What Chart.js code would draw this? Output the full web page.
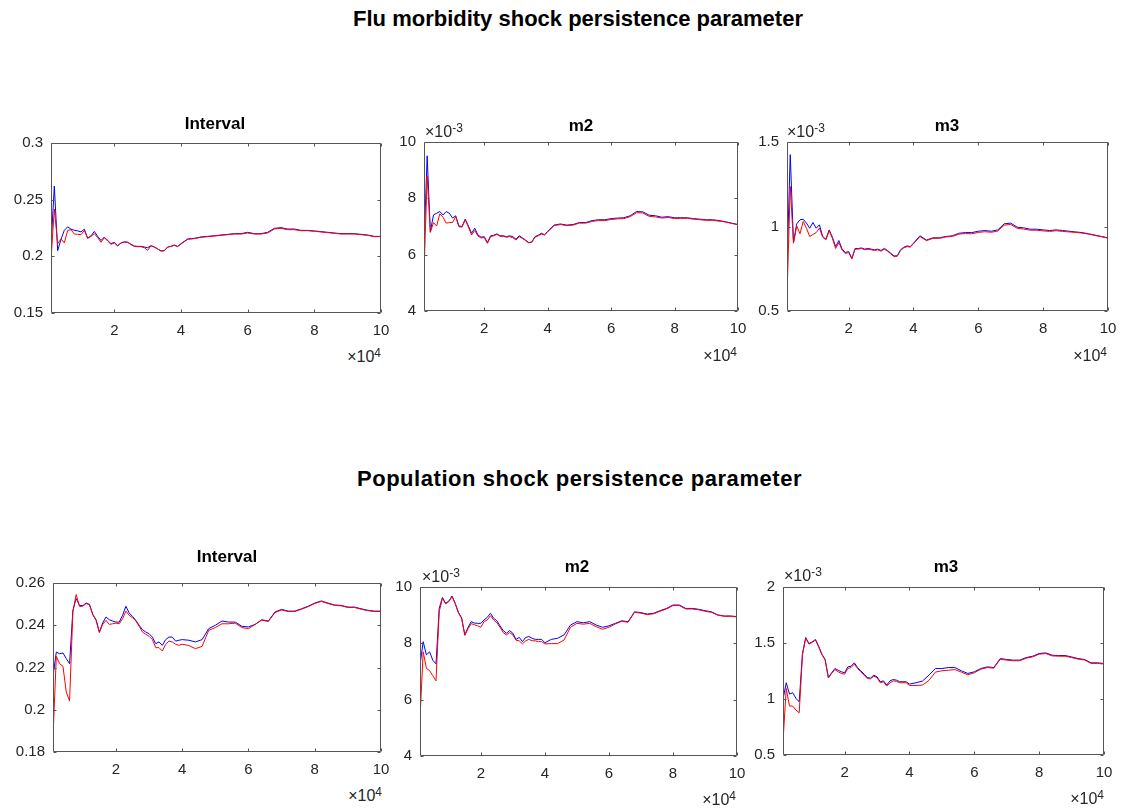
<!DOCTYPE html>
<html>
<head>
<meta charset="utf-8">
<title>Shock persistence parameters</title>
<script src="https://cdn.jsdelivr.net/npm/chart.js@4.4.1/dist/chart.umd.min.js"></script>
<style>
  html, body { margin: 0; padding: 0; background: #fff; }
  #page {
    position: relative;
    width: 1131px;
    height: 812px;
    overflow: hidden;
    font-family: "Liberation Sans", Arial, Helvetica, sans-serif;
  }
  #page canvas { position: absolute; }
  .txt { position: absolute; white-space: nowrap; }
  .sup { position: relative; top: -0.45em; font-size: 12px; line-height: 0; }
</style>
</head>
<body>
<div id="page"></div>
<script>
// ═══════════════════════════════════════
// Convergence diagnostics, 2 x 3 panels
// blue / red lines per panel
// ═══════════════════════════════════════

// x positions (draws)
let draws = [
  1000, 2000, 3000, 4000, 5000, 6000, 7000, 8000, 9000, 10000,
  11000, 12000, 13000, 14000, 15000, 16000, 17000, 18000, 19000, 20000,
  21000, 22000, 23000, 24000, 25000, 26000, 27000, 28000, 29000, 30000,
  31000, 32000, 33000, 34000, 35000, 36000, 37000, 38000, 39000, 40000,
  42000, 44000, 46000, 48000, 50000, 52000, 54000, 56000, 58000, 60000,
  62000, 64000, 66000, 68000, 70000, 72000, 74000, 76000, 78000, 80000,
  82000, 84000, 86000, 88000, 90000, 92000, 94000, 96000, 98000, 100000,
];

// tick labels
let xTicks = [20000, 40000, 60000, 80000, 100000];
let fluIntervalTicks = [0.15, 0.2, 0.25, 0.3];
let m2Ticks = [4, 6, 8, 10];            // x 1e-3
let fluM3Ticks = [0.5, 1, 1.5];         // x 1e-3
let popIntervalTicks = [0.18, 0.2, 0.22, 0.24, 0.26];
let popM3Ticks = [0.5, 1, 1.5, 2];      // x 1e-3

// Flu morbidity shock persistence parameter
let fluIntervalBlue = [
  0.209, 0.262, 0.205, 0.215, 0.223, 0.226, 0.224, 0.223, 0.2225, 0.2215,
  0.224, 0.216, 0.218, 0.222, 0.2176, 0.214, 0.217, 0.214, 0.2112, 0.2124,
  0.2094, 0.2118, 0.2129, 0.2124, 0.2106, 0.2091, 0.2088, 0.2088, 0.2082, 0.2076,
  0.2094, 0.2082, 0.2065, 0.2047, 0.205, 0.2082, 0.2088, 0.21, 0.2088, 0.2112,
  0.2153, 0.2159, 0.2171, 0.2176, 0.2182, 0.2188, 0.2194, 0.22, 0.22, 0.2212,
  0.22, 0.22, 0.2212, 0.2247, 0.2253, 0.2241, 0.2241, 0.2229, 0.2229, 0.2224,
  0.2218, 0.2212, 0.2206, 0.22, 0.22, 0.22, 0.2194, 0.2188, 0.2176, 0.2176,
];
let fluIntervalRed = [
  0.197, 0.2418, 0.2112, 0.2153, 0.2118, 0.2229, 0.2235, 0.2197, 0.2194, 0.2191,
  0.2229, 0.2159, 0.2176, 0.22, 0.2165, 0.2124, 0.2165, 0.2135, 0.2106, 0.2118,
  0.2091, 0.2118, 0.2124, 0.2124, 0.2103, 0.2088, 0.2085, 0.2085, 0.2076, 0.2053,
  0.2094, 0.2082, 0.2065, 0.2047, 0.205, 0.2082, 0.2088, 0.2097, 0.2085, 0.2109,
  0.215, 0.2156, 0.2168, 0.2173, 0.2179, 0.2185, 0.2191, 0.2197, 0.2197, 0.2206,
  0.2197, 0.2197, 0.2206, 0.2241, 0.2247, 0.2235, 0.2235, 0.2226, 0.2226, 0.2221,
  0.2215, 0.2209, 0.2203, 0.2197, 0.2197, 0.2197, 0.2191, 0.2185, 0.2174, 0.2174,
];
// m2 / m3 values are in units of 1e-3 (multiplier printed above the axes)
let fluM2Blue = [
  6.29, 9.51, 6.82, 7.41, 7.47, 7.53, 7.41, 7.53, 7.47, 7.30,
  7.38, 7.02, 7.00, 7.26, 7.02, 6.76, 6.94, 6.70, 6.62, 6.64,
  6.43, 6.67, 6.69, 6.74, 6.67, 6.67, 6.64, 6.67, 6.64, 6.55,
  6.67, 6.60, 6.52, 6.43, 6.45, 6.64, 6.69, 6.76, 6.71, 6.83,
  7.05, 7.09, 7.05, 7.07, 7.14, 7.14, 7.21, 7.24, 7.24, 7.28,
  7.30, 7.31, 7.38, 7.53, 7.52, 7.40, 7.38, 7.33, 7.35, 7.31,
  7.31, 7.31, 7.28, 7.26, 7.24, 7.24, 7.21, 7.17, 7.12, 7.07,
];
let fluM2Red = [
  5.34, 8.80, 6.79, 7.14, 7.02, 7.45, 7.33, 7.12, 7.14, 7.14,
  7.35, 6.99, 6.98, 7.24, 6.98, 6.70, 6.86, 6.66, 6.59, 6.61,
  6.40, 6.64, 6.67, 6.72, 6.65, 6.65, 6.62, 6.64, 6.60, 6.52,
  6.64, 6.58, 6.50, 6.42, 6.44, 6.62, 6.67, 6.73, 6.70, 6.81,
  7.03, 7.07, 7.03, 7.05, 7.12, 7.12, 7.18, 7.21, 7.21, 7.25,
  7.27, 7.28, 7.35, 7.49, 7.48, 7.36, 7.34, 7.30, 7.32, 7.28,
  7.29, 7.29, 7.26, 7.24, 7.22, 7.22, 7.19, 7.16, 7.11, 7.06,
];
let fluM3Blue = [
  0.763, 1.425, 0.905, 1.016, 1.040, 1.043, 1.020, 0.990, 1.024, 0.990,
  1.010, 0.941, 0.925, 0.980, 0.937, 0.881, 0.917, 0.866, 0.846, 0.852,
  0.812, 0.870, 0.870, 0.873, 0.866, 0.870, 0.866, 0.862, 0.866, 0.858,
  0.870, 0.858, 0.842, 0.826, 0.826, 0.862, 0.877, 0.885, 0.881, 0.901,
  0.945, 0.920, 0.933, 0.933, 0.941, 0.945, 0.960, 0.964, 0.964, 0.972,
  0.976, 0.972, 0.980, 1.016, 1.020, 0.996, 0.992, 0.984, 0.984, 0.980,
  0.976, 0.980, 0.976, 0.972, 0.968, 0.964, 0.957, 0.949, 0.941, 0.933,
];
let fluM3Red = [
  0.585, 1.237, 0.901, 1.004, 0.957, 1.030, 0.990, 0.941, 0.953, 0.964,
  0.990, 0.937, 0.921, 0.975, 0.930, 0.870, 0.905, 0.860, 0.840, 0.846,
  0.808, 0.866, 0.866, 0.870, 0.862, 0.866, 0.862, 0.858, 0.862, 0.854,
  0.866, 0.854, 0.838, 0.822, 0.824, 0.858, 0.873, 0.881, 0.878, 0.897,
  0.941, 0.916, 0.930, 0.930, 0.938, 0.941, 0.955, 0.958, 0.957, 0.965,
  0.969, 0.966, 0.973, 1.008, 1.012, 0.989, 0.985, 0.978, 0.978, 0.974,
  0.971, 0.975, 0.971, 0.968, 0.965, 0.961, 0.955, 0.947, 0.939, 0.931,
];

// Population shock persistence parameter
let popIntervalBlue = [
  0.2158, 0.2273, 0.2265, 0.2269, 0.2242, 0.2218, 0.2471, 0.2526, 0.2494, 0.2493,
  0.2505, 0.2499, 0.2452, 0.2426, 0.2368, 0.2411, 0.2439, 0.2426, 0.2420, 0.2415,
  0.2415, 0.2447, 0.2490, 0.2458, 0.2442, 0.2423, 0.2400, 0.2379, 0.2368, 0.2360,
  0.2344, 0.2313, 0.2321, 0.2305, 0.2332, 0.2344, 0.2344, 0.2325, 0.2329, 0.2332,
  0.2329, 0.2321, 0.2332, 0.2384, 0.2400, 0.2420, 0.2415, 0.2415, 0.2395, 0.2392,
  0.2404, 0.2426, 0.2420, 0.2463, 0.2475, 0.2467, 0.2467, 0.2478, 0.2490, 0.2505,
  0.2515, 0.2505, 0.2496, 0.2494, 0.2486, 0.2486, 0.2478, 0.2471, 0.2467, 0.2467,
];
let popIntervalRed = [
  0.1871, 0.2253, 0.2218, 0.2206, 0.2084, 0.2041, 0.2463, 0.2546, 0.2489, 0.2490,
  0.2503, 0.2497, 0.2449, 0.2423, 0.2365, 0.2405, 0.2423, 0.2404, 0.2407, 0.2410,
  0.2407, 0.2431, 0.2467, 0.2447, 0.2436, 0.2420, 0.2395, 0.2368, 0.2357, 0.2348,
  0.2332, 0.2294, 0.2294, 0.2278, 0.2310, 0.2325, 0.2321, 0.2310, 0.2305, 0.2310,
  0.2304, 0.2289, 0.2300, 0.2376, 0.2389, 0.2407, 0.2407, 0.2410, 0.2389, 0.2384,
  0.2404, 0.2424, 0.2418, 0.2460, 0.2472, 0.2465, 0.2465, 0.2476, 0.2488, 0.2503,
  0.2513, 0.2503, 0.2494, 0.2492, 0.2484, 0.2484, 0.2476, 0.2469, 0.2465, 0.2465,
];
let popM2Blue = [
  7.23, 8.06, 7.59, 7.70, 7.40, 7.27, 9.24, 9.63, 9.42, 9.50,
  9.68, 9.42, 9.10, 8.90, 8.30, 8.57, 8.77, 8.72, 8.71, 8.71,
  8.83, 8.92, 9.07, 8.89, 8.80, 8.62, 8.45, 8.36, 8.45, 8.36,
  8.14, 8.21, 8.06, 8.21, 8.24, 8.18, 8.14, 8.14, 8.14, 8.02,
  8.14, 8.18, 8.30, 8.65, 8.77, 8.73, 8.77, 8.65, 8.57, 8.62,
  8.71, 8.80, 8.77, 9.12, 9.09, 9.04, 9.07, 9.16, 9.24, 9.36,
  9.36, 9.24, 9.24, 9.21, 9.16, 9.12, 9.01, 8.97, 8.97, 8.95,
];
let popM2Red = [
  5.34, 7.70, 7.11, 7.03, 6.85, 6.67, 9.12, 9.60, 9.40, 9.48,
  9.66, 9.40, 9.08, 8.88, 8.28, 8.52, 8.70, 8.66, 8.62, 8.57,
  8.77, 8.83, 8.98, 8.83, 8.73, 8.57, 8.38, 8.30, 8.38, 8.30,
  8.11, 8.09, 7.98, 8.09, 8.14, 8.09, 8.09, 8.06, 8.06, 7.98,
  7.99, 7.99, 8.12, 8.57, 8.71, 8.68, 8.71, 8.59, 8.50, 8.57,
  8.69, 8.78, 8.75, 9.10, 9.07, 9.02, 9.05, 9.14, 9.22, 9.34,
  9.34, 9.22, 9.22, 9.19, 9.14, 9.10, 9.00, 8.96, 8.96, 8.94,
];
let popM3Blue = [
  0.996, 1.145, 1.044, 1.056, 1.005, 0.975, 1.406, 1.549, 1.495, 1.510,
  1.531, 1.471, 1.400, 1.353, 1.192, 1.234, 1.272, 1.257, 1.243, 1.234,
  1.287, 1.293, 1.323, 1.281, 1.252, 1.222, 1.192, 1.186, 1.213, 1.198,
  1.154, 1.162, 1.124, 1.162, 1.174, 1.168, 1.154, 1.154, 1.154, 1.133,
  1.145, 1.160, 1.213, 1.272, 1.272, 1.281, 1.281, 1.252, 1.228, 1.243,
  1.272, 1.287, 1.281, 1.361, 1.353, 1.347, 1.347, 1.370, 1.382, 1.406,
  1.412, 1.391, 1.388, 1.388, 1.376, 1.361, 1.353, 1.323, 1.323, 1.317,
];
let popM3Red = [
  0.619, 1.094, 0.937, 0.937, 0.901, 0.877, 1.391, 1.545, 1.490, 1.505,
  1.527, 1.465, 1.395, 1.348, 1.188, 1.228, 1.263, 1.243, 1.228, 1.222,
  1.272, 1.281, 1.311, 1.272, 1.243, 1.213, 1.183, 1.180, 1.204, 1.190,
  1.145, 1.154, 1.115, 1.145, 1.162, 1.157, 1.145, 1.145, 1.145, 1.121,
  1.121, 1.124, 1.166, 1.240, 1.252, 1.257, 1.263, 1.240, 1.216, 1.234,
  1.266, 1.281, 1.275, 1.355, 1.347, 1.341, 1.341, 1.364, 1.376, 1.400,
  1.406, 1.385, 1.382, 1.382, 1.370, 1.356, 1.348, 1.318, 1.318, 1.312,
];

// ═══════════════════════════════════════
// Layout and styles
// ═══════════════════════════════════════
let page = document.getElementById("page");
let PAGE_W = 1131;
let YW = 60;   // room for y tick labels
let PT = 22;   // top padding inside each canvas (must exceed half a label + tick padding)
let PR = 26;   // right padding inside each canvas
let XH = 32;   // room for x tick labels
let tickLen = 3;
let boxColor = "#555555";
let textColor = "#262626";
let tickFont = { family: '"Liberation Sans", Arial, Helvetica, sans-serif', size: 15 };
let expSize = 16;

let panels = [
  { title: "Interval", titleX: 215, titleY: 129.5, box: { l: 51, t: 143, r: 381, b: 313 },
    yMin: 0.15, yMax: 0.3, yTicks: fluIntervalTicks, blue: fluIntervalBlue, red: fluIntervalRed,
    xExp: { x: 381, y: 363 }, yExp: null },
  { title: "m2", titleX: 581, titleY: 131.5, box: { l: 424, t: 142, r: 738, b: 311 },
    yMin: 4, yMax: 10, yTicks: m2Ticks, blue: fluM2Blue, red: fluM2Red,
    xExp: { x: 737, y: 362 }, yExp: { x: 425, y: 138 } },
  { title: "m3", titleX: 947, titleY: 131.5, box: { l: 787, t: 142, r: 1108, b: 311 },
    yMin: 0.5, yMax: 1.5, yTicks: fluM3Ticks, blue: fluM3Blue, red: fluM3Red,
    xExp: { x: 1107, y: 362 }, yExp: { x: 787, y: 138 } },
  { title: "Interval", titleX: 227, titleY: 562.7, box: { l: 53, t: 583, r: 381, b: 752 },
    yMin: 0.18, yMax: 0.26, yTicks: popIntervalTicks, blue: popIntervalBlue, red: popIntervalRed,
    xExp: { x: 382, y: 802 }, yExp: null },
  { title: "m2", titleX: 577, titleY: 572.3, box: { l: 420, t: 587, r: 737, b: 756 },
    yMin: 4, yMax: 10, yTicks: m2Ticks, blue: popM2Blue, red: popM2Red,
    xExp: { x: 736, y: 806 }, yExp: { x: 422, y: 583 } },
  { title: "m3", titleX: 946, titleY: 572.3, box: { l: 783, t: 587, r: 1104, b: 755 },
    yMin: 0.5, yMax: 2, yTicks: popM3Ticks, blue: popM3Blue, red: popM3Red,
    xExp: { x: 1104, y: 805 }, yExp: { x: 784, y: 582 } },
];

// Box round the plot area with inward ticks on all four sides
let boxTicks = {
  id: "boxTicks",
  afterDatasetsDraw(chart) {
    let ctx = chart.ctx;
    let a = chart.chartArea;
    let L = Math.round(a.left) + 0.5;
    let R = Math.round(a.right) - 0.5;
    let T = Math.round(a.top) + 0.5;
    let B = Math.round(a.bottom) - 0.5;
    ctx.save();
    ctx.strokeStyle = boxColor;
    ctx.lineWidth = 1;
    ctx.beginPath();
    ctx.rect(L, T, R - L, B - T);
    chart.scales.x.ticks.forEach(function (t) {
      let x = Math.round(chart.scales.x.getPixelForValue(t.value)) + 0.5;
      ctx.moveTo(x, B); ctx.lineTo(x, B - tickLen);
      ctx.moveTo(x, T); ctx.lineTo(x, T + tickLen);
    });
    chart.scales.y.ticks.forEach(function (t) {
      let y = Math.round(chart.scales.y.getPixelForValue(t.value)) + 0.5;
      ctx.moveTo(L, y); ctx.lineTo(L + tickLen, y);
      ctx.moveTo(R, y); ctx.lineTo(R - tickLen, y);
    });
    ctx.stroke();
    ctx.restore();
  },
};

function toPoints(values) {
  return draws.map(function (d, i) {
    return { x: d, y: values[i] };
  });
}

// Draw one panel on its own canvas
function drawPanel(p) {
  let w = (p.box.r - p.box.l) + YW + PR;
  let h = (p.box.b - p.box.t) + PT + XH;
  let canvas = document.createElement("canvas");
  canvas.width = w;
  canvas.height = h;
  canvas.style.width = w + "px";
  canvas.style.height = h + "px";
  canvas.style.left = (p.box.l - YW) + "px";
  canvas.style.top = (p.box.t - PT) + "px";
  page.appendChild(canvas);

  return new Chart(canvas.getContext("2d"), {
    type: "line",
    data: {
      datasets: [
        // first dataset is painted last, so red sits on top of blue
        { label: "red", data: toPoints(p.red), borderColor: "#ff0000",
          borderWidth: 1, pointRadius: 0, tension: 0, fill: false },
        { label: "blue", data: toPoints(p.blue), borderColor: "#0000ff",
          borderWidth: 1, pointRadius: 0, tension: 0, fill: false },
      ],
    },
    options: {
      responsive: false,
      animation: false,
      events: [],
      layout: { padding: { left: 0, top: PT, right: PR, bottom: 0 } },
      plugins: {
        legend: { display: false },
        tooltip: { enabled: false },
      },
      scales: {
        x: {
          type: "linear",
          min: 1000,
          max: 100000,
          grid: { display: false, drawTicks: false },
          border: { display: false },
          ticks: {
            font: tickFont,
            color: textColor,
            padding: 9,
            maxRotation: 0,
            autoSkip: false,
            callback: function (v) { return String(v / 1e4); },
          },
          afterBuildTicks: function (s) {
            s.ticks = xTicks.map(function (v) { return { value: v }; });
          },
          afterFit: function (s) { s.height = XH; },
        },
        y: {
          type: "linear",
          min: p.yMin,
          max: p.yMax,
          grid: { display: false, drawTicks: false },
          border: { display: false },
          ticks: {
            font: tickFont,
            color: textColor,
            padding: 8,
            callback: function (v) { return String(+v.toFixed(3)); },
          },
          afterBuildTicks: function (s) {
            s.ticks = p.yTicks.map(function (v) { return { value: v }; });
          },
          afterFit: function (s) { s.width = YW; },
        },
      },
    },
    plugins: [boxTicks],
  });
}

// Place a line of text by its baseline
function addText(html, x, baseline, size, align, bold, color, spacing) {
  let el = document.createElement("div");
  el.className = "txt";
  el.innerHTML = html;
  el.style.fontSize = size + "px";
  el.style.lineHeight = size + "px";
  el.style.fontWeight = bold ? "bold" : "normal";
  el.style.color = color;
  if (spacing) el.style.letterSpacing = spacing + "px";
  el.style.top = (baseline - 0.8465 * size) + "px";
  if (align === "center") {
    el.style.left = x + "px";
    el.style.transform = "translateX(-50%)";
  } else if (align === "right") {
    el.style.right = (PAGE_W - x) + "px";
  } else {
    el.style.left = x + "px";
  }
  page.appendChild(el);
}

// Section titles
addText("Flu morbidity shock persistence parameter", 578, 26.7, 22, "center", true, "#000");
addText("Population shock persistence parameter", 579.5, 486.7, 22, "center", true, "#000", 0.55);

panels.forEach(function (p) {
  drawPanel(p);
  addText(p.title, p.titleX, p.titleY, 17, "center", true, "#000");
  addText("&times;10<span class=\"sup\">4</span>", p.xExp.x, p.xExp.y, expSize, "right", false, textColor);
  if (p.yExp) {
    addText("&times;10<span class=\"sup\">-3</span>", p.yExp.x, p.yExp.y, expSize, "left", false, textColor);
  }
});
</script>
</body>
</html>
